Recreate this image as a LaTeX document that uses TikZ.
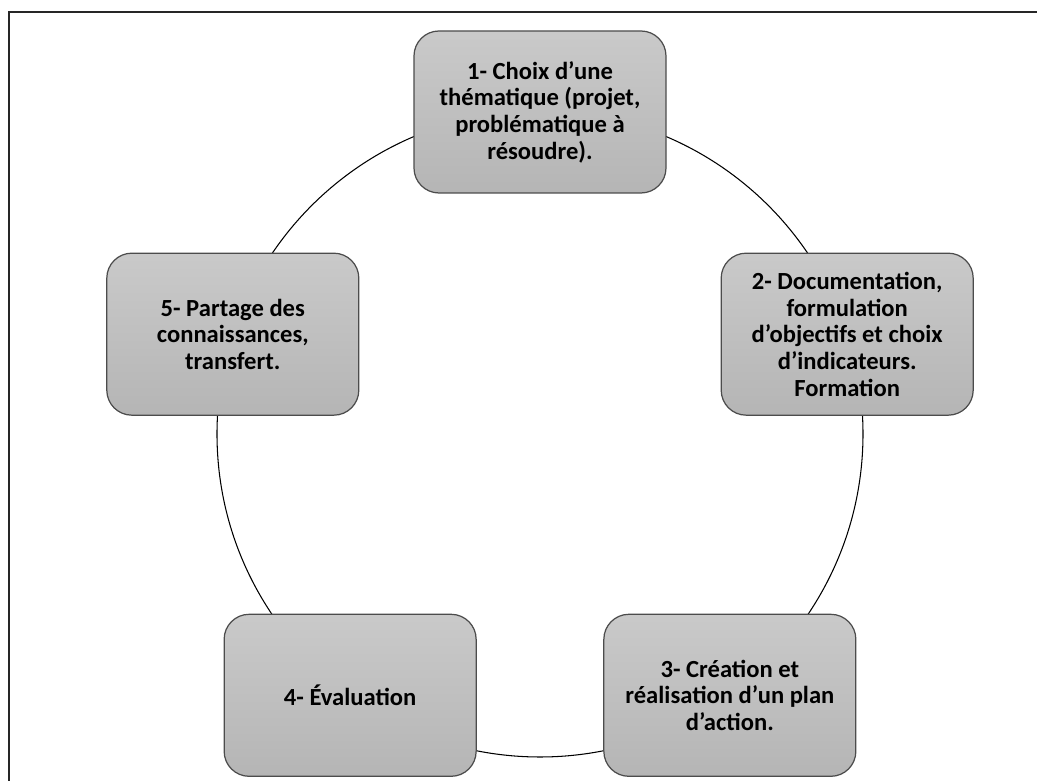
\documentclass[tikz,border=0pt]{standalone}
\usepackage{fontspec}
\setmainfont{Carlito}
\usepackage{tikz}
\usetikzlibrary{positioning}

\tikzset{
  etape/.style={draw=gray!60!black, line width=0.7pt, rounded corners=0.5cm,
    top color=gray!42, bottom color=gray!58,
    minimum width=5.04cm, minimum height=3.24cm, inner sep=0pt,
    align=center, font=\fontsize{14}{15.2}\selectfont\bfseries},
  cycle/.style={draw=black, line width=0.6pt}
}

\begin{document}
\begin{tikzpicture}
\useasboundingbox (0,0) rectangle (20.74,15.62);
% frame
\draw[line width=1.1pt, black!85] (0.18,0) -- (0.18,15.38) -- (20.74,15.38); % left and top
% cycle
\coordinate (centre) at (10.8,6.94);
\draw[cycle] (centre) circle (6.46);
% steps
\node[etape] (choix) at ([shift={(90:6.44)}]centre) {1- Choix d’une\\th\'ematique (projet,\\probl\'ematique \`a\\r\'esoudre).};
\node[etape] (doc) at ([shift={(18:6.46)}]centre) {2- Documentation,\\formulation\\d’objectifs et choix\\d’indicateurs.\\Formation};
\node[etape] (plan) at ([shift={(-54:6.46)}]centre) {3- Cr\'eation et\\r\'ealisation d’un plan\\d’action.};
\node[etape] (eval) at ([shift={(-126:6.46)}]centre) {4- \'Evaluation};
\node[etape] (partage) at ([shift={(162:6.46)}]centre) {5- Partage des\\connaissances,\\transfert.};
\end{tikzpicture}
\end{document}
